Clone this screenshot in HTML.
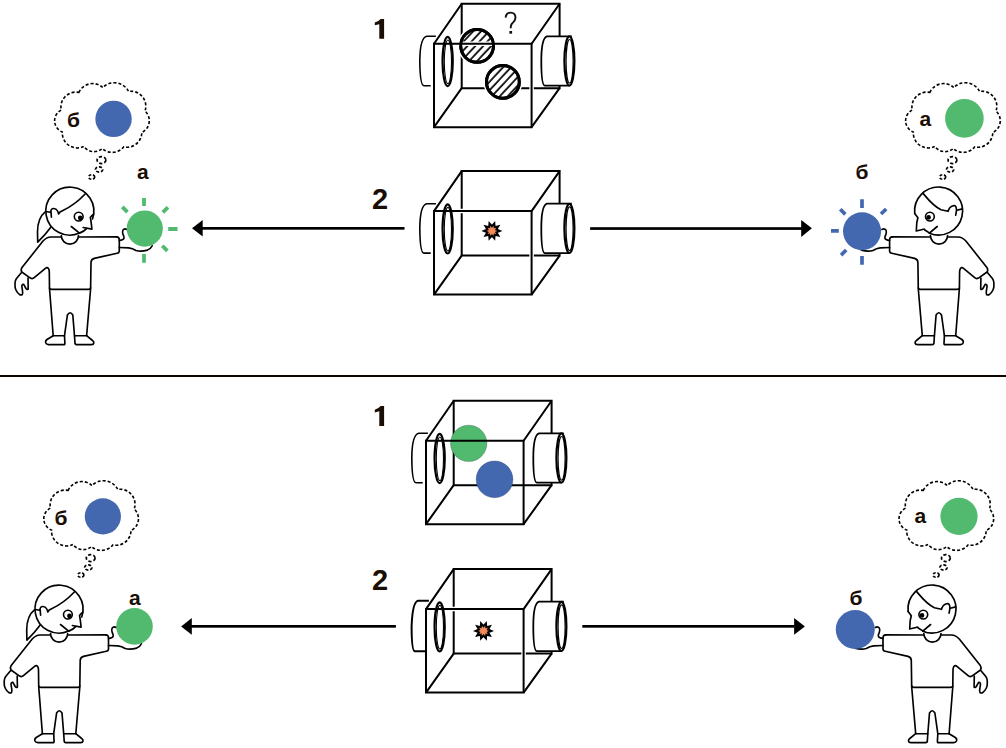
<!DOCTYPE html>
<html><head><meta charset="utf-8">
<style>
html,body{margin:0;padding:0;background:#fff;}
body{width:1006px;height:748px;overflow:hidden;}
svg{display:block;}
text{font-family:"Liberation Sans",sans-serif;}
</style></head>
<body>
<svg width="1006" height="748" viewBox="0 0 1006 748">
<defs>
  <pattern id="hatch" patternUnits="userSpaceOnUse" width="5.8" height="10" patternTransform="rotate(43)">
    <rect x="-1" y="-1" width="8" height="12" fill="#fff"/>
    <line x1="2" y1="-1" x2="2" y2="11" stroke="#000" stroke-width="1.7"/>
  </pattern>

  <!-- box frame: back lines -->
  <g id="boxBack" fill="none" stroke="#000" stroke-width="2">
    <path d="M461.7,3.7 H559.6 V88.2 H461.7 Z"/>
  </g>
  <g id="boxFront" fill="none">
    <path d="M434,43.7 H531.6 V127.2 H434 Z" stroke="#fff" stroke-width="4.5"/>
    <path d="M434,43.7 L461.7,3.7 M531.6,43.7 L559.6,3.7 M434,127.2 L461.7,88.2 M531.6,127.2 L559.6,88.2" stroke="#000" stroke-width="2"/>
    <path d="M434,43.7 H531.6 V127.2 H434 Z" stroke="#000" stroke-width="2"/>
  </g>
  <g id="tubes" stroke="#000" fill="none">
    <!-- left tube -->
    <path d="M435.9,36.3 H427 Q420,37 419.8,61 Q420,85.7 424,85.7 H430.7" stroke-width="1.6"/>
    <ellipse cx="447.65" cy="61.5" rx="5.1" ry="24.6" stroke-width="2.2"/>
    <ellipse cx="447.9" cy="61.8" rx="3.6" ry="21.8" stroke-width="1.1"/>
    <!-- right tube -->
    <path d="M570.9,36.3 H547 Q541.3,38 541.3,61 Q541.3,85.7 545,85.7 H568.3 Z" fill="#fff" stroke-width="1.8"/>
    <ellipse cx="569.4" cy="61" rx="5" ry="24.6" fill="#fff" stroke-width="2.2"/>
    <ellipse cx="569.6" cy="61.3" rx="3.5" ry="21.8" stroke-width="1.1"/>
  </g>

  <!-- star -->
  <g id="star">
    <polygon points="" id="starpoly"/>
  </g>
</defs>

<!-- divider -->
<rect x="0" y="375" width="1006" height="2" fill="#0d0500"/>

<!-- ============ TOP HALF ============ -->
<path d="M380.6,18.9 L384.1,18.9 L384.1,38.8 L379.3,38.8 L379.3,24.2 L374.8,25.3 L374.8,22.6 Q378.5,21.5 380.6,18.9 Z" fill="#1a0e04"/>
<text x="372" y="208.8" font-size="29" font-weight="bold" fill="#1a0e04">2</text>

<!-- box 1 top -->
<g id="box1top">
  <use href="#boxBack"/>
  <circle cx="477.1" cy="45.85" r="19.5" fill="#fff"/><circle cx="477.1" cy="45.85" r="16.4" fill="url(#hatch)" stroke="#000" stroke-width="3"/>
  <circle cx="502.9" cy="81.9" r="19.5" fill="#fff"/><circle cx="502.9" cy="81.9" r="16.4" fill="url(#hatch)" stroke="#000" stroke-width="3"/>
  <use href="#boxFront"/>
  <circle cx="477.1" cy="45.85" r="16.4" fill="none" stroke="#000" stroke-width="3"/>
  <circle cx="502.9" cy="81.9" r="16.4" fill="none" stroke="#000" stroke-width="3"/>
  <use href="#tubes"/>
</g>
<path d="M505.6,17.6 C506,14 508,12.6 510.4,12.6 C513.6,12.6 515.5,14.8 515.5,17.8 C515.5,20.6 513.5,22 512,23.5 C511,24.5 510.7,25.8 510.7,28.2" fill="none" stroke="#111" stroke-width="1.9"/><rect x="509.4" y="31" width="2.7" height="2.7" fill="#111"/>

<!-- box 2 top -->
<g transform="translate(0,167.4)">
  <use href="#boxBack"/>
  <use href="#boxFront"/>
  <use href="#tubes"/>
</g>

<!-- arrows top -->
<rect x="200" y="227" width="204.5" height="2.7" fill="#000"/>
<polygon points="192,228.3 202.7,220 202.7,236.6" fill="#000"/>
<rect x="590.1" y="227.2" width="212" height="2.7" fill="#000"/>
<polygon points="811.9,228.3 801.2,220 801.2,236.9" fill="#000"/>


<!-- ===== GIRL (top-left base) ===== -->
<g id="girl" fill="none" stroke="#000" stroke-width="1.65" stroke-linecap="round" stroke-linejoin="round">
  <path d="M92.5,219 A24,24 0 1 0 79.5,233.1"/>
  <path d="M79.5,233.1 Q84,231.5 86.5,228.6"/>
  <path d="M83.2,227.5 L91.9,229.1 L91.3,223.7 Q90.8,219 90.3,217.4 Q91.5,215.8 93.4,214.5"/>
  <path d="M71.3,226.5 L79.5,233.1"/>
  <circle cx="78.7" cy="216.6" r="4.4" stroke-width="1.6"/>
  <circle cx="80.2" cy="217.9" r="2.3" fill="#000" stroke="none"/>
  <path d="M85.4,193.8 C80,199.5 72,206.5 62,211 L60,212 L58.6,214 L58.3,212.8 C57.5,210 55,208.3 53,208.5 C51.5,208.7 50.8,210.5 50.5,212.3 L46,211.5"/>
  <path d="M51,212 L51.4,217.1"/>
  <path d="M45.5,211.7 C40,216 37.5,224 37.5,232 L37.7,242.2 Q45.5,234.5 50.8,227.2"/>
</g>
<g id="girlBody" fill="none" stroke="#000" stroke-width="1.65" stroke-linecap="round" stroke-linejoin="round">
  <path d="M61.3,235.5 A8.6,8.6 0 0 0 78.5,235.5"/>
  <path d="M116.5,236.9 L78.5,237 M61.3,237 L51,237 Q46.3,237.2 42.8,241.3 L22,267.5 Q20.5,269.8 21.8,272 L30.4,278.1 Q32.5,279.2 34.2,277.7 L45.4,268.3 Q47.3,266.8 48.6,268.8 Q49.3,270 49.3,272 L49.5,288.5 L53.2,335.7"/>
  <path d="M116.5,236.9 Q119.3,237 119.3,240 L119.3,251 Q119.3,252.8 117.1,253.2 L94.3,258.4 Q91,259.5 91,262.5 L90.6,289 L86.6,335.7"/>
  <path d="M49.5,288 Q49.8,289.3 51.8,289.3 L88.6,289.3 Q90.4,289.3 90.6,287.8"/>
  <path d="M53.2,335.7 L47,339.5 Q45,341 45.8,343 Q46.5,344.6 48.5,344.6 L63.8,344.6 Q65,344.6 64.9,343.5 L64.5,335.7 Z"/>
  <path d="M64.5,335.7 L67.4,315 Q70.1,310.5 72.8,315 L74.5,335.7"/>
  <path d="M74.5,335.7 L75,343.5 Q75.2,344.6 76.5,344.6 L91.5,344.6 Q93.5,344.6 93.8,343 Q94,341.5 92.5,340.5 L86.6,335.7 Z"/>
  <path d="M21.5,272.5 L16.5,278.5 Q15,280.5 15,283 L15.1,287.4 Q15.5,290 17.5,292.5 L19.5,294.5 Q21,295.5 22.3,294.5 Q23,293.5 22.5,291 L21.8,286 Q22.2,284 23.7,284.4 L26,288.5 Q27,290 28.2,289 L28,278"/>
  <path d="M119.3,240.5 Q123.5,240 124,238 Q124.2,236.5 123,234.5 Q122,232 123,230 Q124.5,228 127,229.5"/>
  <path d="M119.3,247.5 L128.7,247.9 Q132.5,248.3 136,250.5 Q141,252 147.4,250.1 Q151,248.5 152.2,245.7"/>
</g>

<!-- ===== BOY (top-right base) ===== -->
<g id="boy">
<g fill="none" stroke="#000" stroke-width="1.65" stroke-linecap="round" stroke-linejoin="round">
  <path d="M914.7,213.4 A24,24 0 1 1 929.4,233.2"/>
  <path d="M914.7,213.4 L917.9,217.7 L916.8,222.5 L916.3,231 L923.5,229.2 Q924.5,229 924.8,230 L929.4,232.9"/>
  <path d="M937.2,226.5 L929.4,233.2"/>
  <circle cx="929.9" cy="216.6" r="4.4" stroke-width="1.6"/>
  <circle cx="928.6" cy="217.4" r="2.3" fill="#000" stroke="none"/>
  <path d="M923.1,193.4 C927,198 933,206 941,209.7 L948,211.3 L948.7,209.7 Q950,206 954.4,205.5 Q956.5,206 956.5,210.3 L955.7,215.1"/>
  <path d="M956.8,210.3 L962.4,208.9"/>
</g>
<use href="#girlBody" transform="translate(1008.9,0) scale(-1,1)"/>
</g>

<!-- ============ BOTTOM HALF ============ -->
<path d="M380.6,406 L384.1,406 L384.1,425.9 L379.3,425.9 L379.3,411.3 L374.8,412.4 L374.8,409.7 Q378.5,408.6 380.6,406 Z" fill="#1a0e04"/>
<text x="372" y="589.7" font-size="29" font-weight="bold" fill="#1a0e04">2</text>

<g transform="translate(-8,397)">
  <use href="#boxBack"/>
  <circle cx="502.55" cy="82.35" r="18.4" fill="#4468B0" stroke="#223355" stroke-width="0.5" stroke-opacity="0.6"/>
  <circle cx="476.7" cy="46.4" r="18.2" fill="#52BA6E" stroke="#224433" stroke-width="0.5" stroke-opacity="0.6"/>
  <path d="M434,43.7 L461.7,3.7 M531.6,43.7 L559.6,3.7 M434,127.2 L461.7,88.2 M531.6,127.2 L559.6,88.2" stroke="#000" stroke-width="2" fill="none"/>
  <path d="M434,43.7 H531.6 V127.2 H434 Z" stroke="#000" stroke-width="2" fill="none"/>
  <use href="#tubes"/>
</g>
<g transform="translate(-8,565.4)">
  <use href="#boxBack"/>
  <use href="#boxFront"/>
  <g stroke="#000" fill="none">
    <path d="M436.9,35.4 H426 Q420.5,36.5 419.6,61 Q419.6,85.8 423,85.8 H433.6" stroke-width="2"/>
    <ellipse cx="447.65" cy="61.5" rx="5.1" ry="24.6" stroke-width="2.2"/>
    <ellipse cx="447.9" cy="61.8" rx="3.6" ry="21.8" stroke-width="1.1"/>
    <path d="M570.9,36.3 H547 Q541.3,38 541.3,61 Q541.3,85.7 545,85.7 H568.3 Z" fill="#fff" stroke-width="1.8"/>
    <ellipse cx="569.4" cy="61" rx="5" ry="24.6" fill="#fff" stroke-width="2.2"/>
    <ellipse cx="569.6" cy="61.3" rx="3.5" ry="21.8" stroke-width="1.1"/>
  </g>
</g>

<rect x="189" y="625" width="206.9" height="2.7" fill="#000"/>
<polygon points="181.1,626.4 191.8,617.9 191.8,634.8" fill="#000"/>
<rect x="582.3" y="625" width="212" height="2.7" fill="#000"/>
<polygon points="804.9,626.4 794.1,617.9 794.1,634.8" fill="#000"/>


<use href="#girl" transform="translate(-10.8,398)"/>
<use href="#girlBody" transform="translate(-10.8,398)"/>
<use href="#boy" transform="translate(-6.6,398)"/>
<defs>
  <g id="bubble">
    <path d="M78.9,92.4 A15,15 0 0 1 102.8,87.6 A16,16 0 0 1 128.5,91.4 A15,15 0 0 1 145,111.1 A13,13 0 0 1 141.8,132.5 A15,15 0 0 1 123.7,147 A15,15 0 0 1 102.3,148.6 A13,13 0 0 1 83.7,146.5 A15,15 0 0 1 62.3,132 A12,12 0 0 1 61.2,110.1 A15,15 0 0 1 78.9,92.4 Z" fill="none" stroke="#000" stroke-width="1.6" stroke-dasharray="3 2"/>
    <ellipse cx="101.5" cy="160.1" rx="4.4" ry="3.5" fill="none" stroke="#000" stroke-width="1.7" stroke-dasharray="3.2 2"/>
    <ellipse cx="99.1" cy="169.5" rx="3.7" ry="2.6" fill="none" stroke="#000" stroke-width="1.7" stroke-dasharray="3 1.8"/>
    <ellipse cx="91.7" cy="177" rx="3.0" ry="2.3" fill="none" stroke="#000" stroke-width="1.7" stroke-dasharray="2.8 1.7"/>
  </g>
</defs>
<!-- top bubbles -->
<use href="#bubble"/>
<circle cx="113.55" cy="118.9" r="18.2" fill="#4468B0"/>
<text x="67" y="127" font-size="21" font-weight="bold" fill="#1a0e04">б</text>
<use href="#bubble" transform="translate(851,0)"/>
<circle cx="964.4" cy="118.4" r="19.3" fill="#52BA6E"/>
<text x="919.5" y="126.3" font-size="21" font-weight="bold" fill="#1a0e04">a</text>

<!-- top balls -->
<circle cx="144.75" cy="228.55" r="18.1" fill="#52BA6E"/>
<path d="M144,198 L144,205.9 M144,254 L144,262.8 M168.2,229 L177.5,229 M122.30,206.95 L127.40,212.05 M162.85,212.35 L167.95,207.25 M162.25,245.75 L167.35,250.85" stroke="#52BA6E" stroke-width="3.8" fill="none"/>
<text x="137" y="179.1" font-size="21" font-weight="bold" fill="#1a0e04">a</text>
<circle cx="862.05" cy="231.25" r="19.05" fill="#4468B0"/>
<path d="M862,199.2 L862,207.9 M862,255.9 L862,264.7 M831,230.8 L838.8,230.8 M840.25,209.25 L845.35,214.35 M881.05,214.05 L886.15,208.95 M841.10,255.10 L846.20,250.00" stroke="#4468B0" stroke-width="3.7" fill="none"/>
<text x="855.5" y="178.9" font-size="21" font-weight="bold" fill="#1a0e04">б</text>

<!-- bottom bubbles -->
<use href="#bubble" transform="translate(-10.8,398)"/>
<circle cx="102.85" cy="516.4" r="18.1" fill="#4468B0"/>
<text x="54.5" y="524.8" font-size="21" font-weight="bold" fill="#1a0e04">б</text>
<use href="#bubble" transform="translate(844.4,398)"/>
<circle cx="959" cy="516.4" r="18.6" fill="#52BA6E"/>
<text x="914.5" y="522.7" font-size="21" font-weight="bold" fill="#1a0e04">a</text>

<!-- bottom balls -->
<circle cx="134.5" cy="626.4" r="18.3" fill="#52BA6E"/>
<text x="129" y="604.8" font-size="21" font-weight="bold" fill="#1a0e04">a</text>
<circle cx="855.25" cy="629.55" r="19.5" fill="#4468B0"/>
<text x="849.5" y="604.8" font-size="21" font-weight="bold" fill="#1a0e04">б</text>

<!-- stars -->
<polygon points="489.46,223.39 491.90,226.20 494.34,223.39 494.66,227.10 498.29,226.26 496.37,229.45 499.80,230.90 496.37,232.35 498.29,235.54 494.66,234.70 494.34,238.41 491.90,235.60 489.46,238.41 489.14,234.70 485.51,235.54 487.43,232.35 484.00,230.90 487.43,229.45 485.51,226.26 489.14,227.10" fill="#F28A5A" stroke="#000" stroke-width="2" stroke-linejoin="miter" stroke-miterlimit="10"/>
<polygon points="481.06,623.39 483.50,626.20 485.94,623.39 486.26,627.10 489.89,626.26 487.97,629.45 491.40,630.90 487.97,632.35 489.89,635.54 486.26,634.70 485.94,638.41 483.50,635.60 481.06,638.41 480.74,634.70 477.11,635.54 479.03,632.35 475.60,630.90 479.03,629.45 477.11,626.26 480.74,627.10" fill="#F28A5A" stroke="#000" stroke-width="2" stroke-linejoin="miter" stroke-miterlimit="10"/>


</svg>
</body></html>
